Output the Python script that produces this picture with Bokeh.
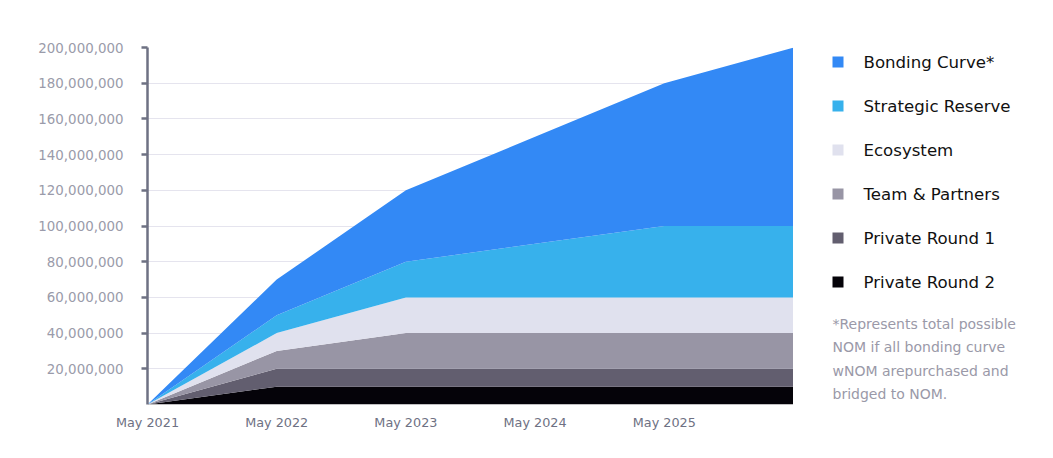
from bokeh.plotting import figure
from bokeh.models import Range1d, FixedTicker, ColumnDataSource
from bokeh.layouts import row
from bokeh.core.properties import value
from bokeh.embed import file_html
from bokeh.resources import INLINE

# ---- data ----
years = [2021, 2022, 2023, 2024, 2025, 2026]
x_tick_values = [2021, 2022, 2023, 2024, 2025]
x_tick_labels = ["May 2021", "May 2022", "May 2023", "May 2024", "May 2025"]

private_round_2 = [0, 10e6, 10e6, 10e6, 10e6, 10e6]
private_round_1 = [0, 10e6, 10e6, 10e6, 10e6, 10e6]
team_partners = [0, 10e6, 20e6, 20e6, 20e6, 20e6]
ecosystem = [0, 10e6, 20e6, 20e6, 20e6, 20e6]
strategic_reserve = [0, 10e6, 20e6, 30e6, 40e6, 40e6]
bonding_curve = [0, 20e6, 40e6, 60e6, 80e6, 100e6]

series_names = ["Private Round 2", "Private Round 1", "Team & Partners",
                "Ecosystem", "Strategic Reserve", "Bonding Curve*"]
series_keys = ["pr2", "pr1", "team", "eco", "sr", "bc"]
colors = ["#050309", "#625E6F", "#9895A5", "#E0E1EE", "#37B1EC", "#3389F5"]

y_tick_values = [20e6, 40e6, 60e6, 80e6, 100e6, 120e6, 140e6, 160e6, 180e6, 200e6]
y_tick_labels = ["{:,}".format(int(v)) for v in y_tick_values]

footnote_lines = ["*Represents total possible", "NOM if all bonding curve",
                  "wNOM arepurchased and", "bridged to NOM."]

FONT = "DejaVu Sans"
MAIN_W, H = 793, 458
FRAME_TOP, FRAME_BOTTOM = 47, 404

source = ColumnDataSource(dict(x=years, pr2=private_round_2, pr1=private_round_1,
                               team=team_partners, eco=ecosystem,
                               sr=strategic_reserve, bc=bonding_curve))

p = figure(width=MAIN_W, height=H, output_backend="svg", toolbar_location=None,
           x_range=Range1d(2021, 2026), y_range=Range1d(0, 200e6),
           min_border_left=147, min_border_right=0, min_border_top=FRAME_TOP,
           min_border_bottom=H - FRAME_BOTTOM)
p.outline_line_color = None
p.background_fill_color = "white"

renderers = p.varea_stack(stackers=series_keys, x="x", color=colors, source=source)

# axes
p.yaxis.ticker = FixedTicker(ticks=y_tick_values)
p.yaxis.major_label_overrides = {v: l for v, l in zip(y_tick_values, y_tick_labels)}
p.yaxis.axis_line_color = "#6E7183"
p.yaxis.axis_line_width = 2.5
p.yaxis.major_tick_line_color = "#6E7183"
p.yaxis.major_tick_line_width = 2.5
p.yaxis.major_tick_out = 6
p.yaxis.major_tick_in = 0
p.yaxis.minor_tick_line_color = None
p.yaxis.major_label_standoff = 18
p.yaxis.major_label_text_font = FONT
p.yaxis.major_label_text_font_size = "13.4px"
p.yaxis.major_label_text_color = "#9A9BAA"

p.xaxis.ticker = FixedTicker(ticks=x_tick_values)
p.xaxis.major_label_overrides = {v: l for v, l in zip(x_tick_values, x_tick_labels)}
p.xaxis.axis_line_color = None
p.xaxis.major_tick_line_color = None
p.xaxis.major_tick_out = 0
p.xaxis.minor_tick_line_color = None
p.xaxis.major_label_standoff = 10
p.xaxis.major_label_text_font = FONT
p.xaxis.major_label_text_font_size = "12.8px"
p.xaxis.major_label_text_color = "#6E7183"

p.xgrid.grid_line_color = None
p.ygrid.grid_line_color = "#E5E4EE"
p.ygrid.grid_line_width = 1

# ---- legend panel (separate figure; its frame lines up with the main frame) ----
lg = figure(width=1053 - MAIN_W, height=H, output_backend="svg", toolbar_location=None,
            x_range=Range1d(MAIN_W, 1053), y_range=Range1d(FRAME_BOTTOM, FRAME_TOP),
            x_axis_type=None, y_axis_type=None, min_border_left=0, min_border_right=0,
            min_border_top=FRAME_TOP, min_border_bottom=H - FRAME_BOTTOM)
lg.outline_line_color = None
lg.xgrid.grid_line_color = None
lg.ygrid.grid_line_color = None

n = len(series_names)
row_y = [61.5 + i * 44 for i in range(n)]
leg_src = ColumnDataSource(dict(name=series_names[::-1], color=colors[::-1], y=row_y,
                                sx=[837.5] * n, tx=[863] * n))
lg.rect(x="sx", y="y", width=11, height=11, fill_color="color", line_color=None,
        source=leg_src)
lg.text(x="tx", y="y", text="name", source=leg_src, text_font=value(FONT),
        text_font_size="16.6px", text_color="#111111", text_baseline="middle",
        text_align="left")

foot_src = ColumnDataSource(dict(text=footnote_lines,
                                 x=[832] * len(footnote_lines),
                                 y=[323 + i * 23.5 for i in range(len(footnote_lines))]))
lg.text(x="x", y="y", text="text", source=foot_src, text_font=value(FONT),
        text_font_size="14px", text_color="#9A99A8", text_baseline="middle",
        text_align="left")

layout = row(p, lg)
open("out.html", "w").write(file_html(layout, INLINE))
